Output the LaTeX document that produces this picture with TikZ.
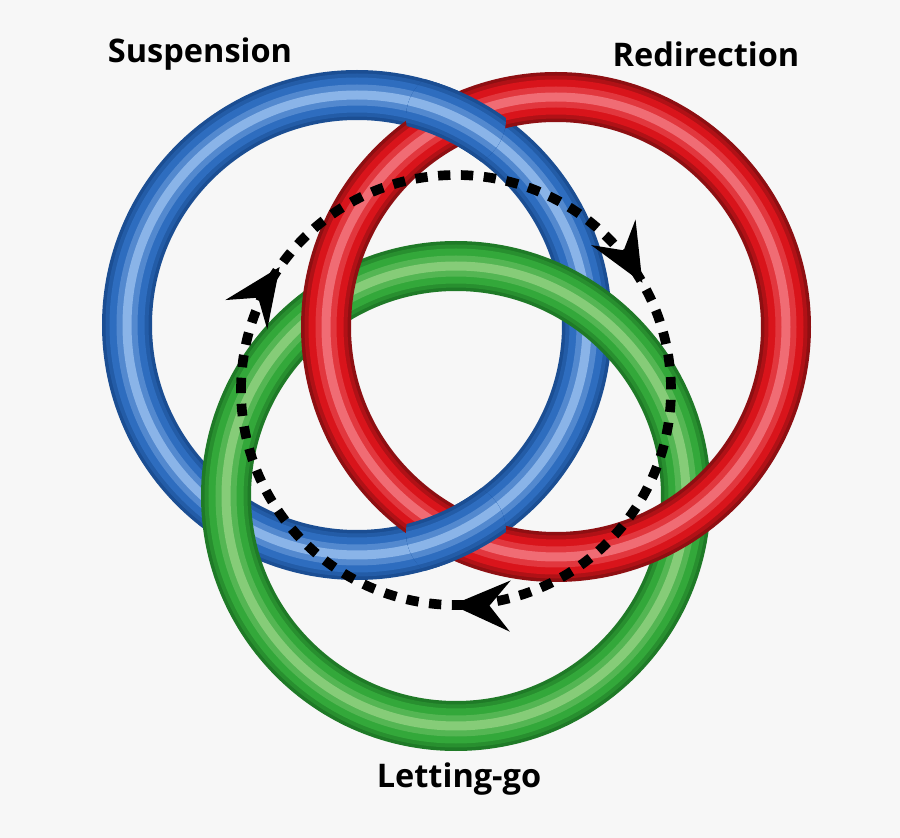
\documentclass[tikz,border=0pt]{standalone}
\usepackage{fontspec}
\setmainfont{Open Sans}
\usetikzlibrary{arrows.meta,decorations.markings}

\definecolor{bgGrey}{HTML}{F7F7F7}
\definecolor{blueDark}{HTML}{1B4E93}
\definecolor{blueMid}{HTML}{2E6DBF}
\definecolor{blueLight}{HTML}{8AB4E8}
\definecolor{redDark}{HTML}{8E0F12}
\definecolor{redMid}{HTML}{D9141B}
\definecolor{redLight}{HTML}{F06C74}
\definecolor{greenDark}{HTML}{1F7A27}
\definecolor{greenMid}{HTML}{33A83A}
\definecolor{greenLight}{HTML}{86CC78}

% tube-like ring: centre, colour prefix
\newcommand{\tubeRing}[2]{%
  \draw[line width=1.0cm, #2Dark] #1 circle (4.6);
  \draw[line width=0.86cm, #2Dark!55!#2Mid] #1 circle (4.6);
  \draw[line width=0.70cm, #2Mid] #1 circle (4.6);
  \draw[line width=0.42cm, #2Mid!60!#2Light] #1 circle (4.6);
  \draw[line width=0.18cm, #2Light] #1 circle (4.6);
}

\begin{document}
\begin{tikzpicture}[
labelText/.style={font=\bfseries\fontsize{18.5}{22}\selectfont, text=black},
cycleArrow/.style={draw=black, line width=5.5pt, dash pattern=on 7pt off 6pt,
  postaction={decorate}, decoration={markings,
    mark=at position 0.097 with {\arrow{Stealth[length=1.15cm,width=1.0cm,inset=0.4cm]}},
    mark=at position 0.417 with {\arrow{Stealth[length=1.15cm,width=1.0cm,inset=0.4cm]}},
    mark=at position 0.753 with {\arrow{Stealth[length=1.15cm,width=1.0cm,inset=0.4cm]}}}}
]
\fill[bgGrey] (0,0) rectangle (18,16.76);
\useasboundingbox (0,0) rectangle (18,16.76);

\coordinate (blueC) at (7.14,10.26);
\coordinate (redC) at (11.12,10.22);
\coordinate (greenC) at (9.12,6.84);
\coordinate (cycleC) at (9.12,8.96);

% rings: blue under green, green under red, red under blue
\tubeRing{(blueC)}{blue}
\tubeRing{(greenC)}{green}
\tubeRing{(redC)}{red}
\begin{scope}
  \clip (9.12,14.40) circle (1.0) (9.12,6.12) circle (1.0);
  \tubeRing{(blueC)}{blue}
\end{scope}

% cycle
\draw[cycleArrow] (cycleC) ++(180:4.3) arc (180:-180:4.3);

\node[labelText] (suspension) at (4.0,15.68) {Suspension};
\node[labelText] (redirection) at (14.12,15.68) {Redirection};
\node[labelText] (lettinggo) at (9.18,1.18) {Letting-go};
\end{tikzpicture}
\end{document}
